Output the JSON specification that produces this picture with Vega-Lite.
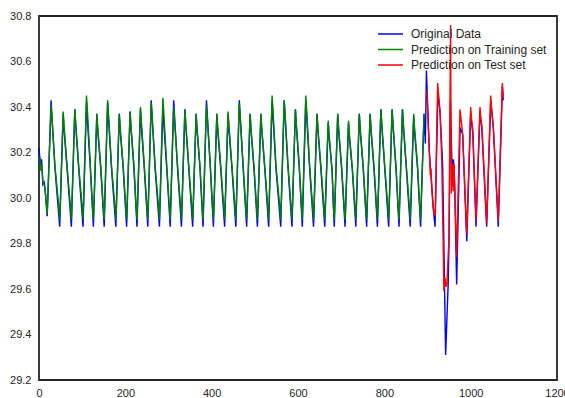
{
"$schema": "https://vega.github.io/schema/vega-lite/v6.json",
"width": 518, "height": 364,
"autosize": {"type": "none"},
"padding": {"left": 39, "top": 16, "right": 8, "bottom": 18},
"config": {
 "view": {"stroke": "#262626", "strokeWidth": 1.8},
 "axis": {"grid": false, "ticks": false, "domain": false, "labelFont": "Liberation Sans", "labelFontSize": 11, "labelColor": "#262626", "title": null},
 "legend": {"orient": "none", "legendX": 344.5, "legendY": 11, "padding": 0, "title": null, "symbolType": "M-2,0H2", "symbolSize": 156, "symbolStrokeWidth": 1.5, "labelFont": "Liberation Sans", "labelFontSize": 12, "labelColor": "#262626", "rowPadding": 2.5, "labelOffset": 13.5}
},
"datasets": {
"orig": [
{"x":0,"y":30.22},{"x":3,"y":30.15},{"x":6,"y":30.17},{"x":9,"y":30.06},{"x":12,"y":30.07},{"x":14,"y":30.04},{"x":19,"y":29.92},
{"x":28,"y":30.43},{"x":30,"y":30.36},{"x":37,"y":30.13},{"x":48,"y":29.874},
{"x":56,"y":30.37},{"x":58,"y":30.30},{"x":65,"y":30.13},{"x":75,"y":29.874},
{"x":83,"y":30.39},{"x":85,"y":30.32},{"x":92,"y":30.13},{"x":102,"y":29.874},
{"x":110,"y":30.42},{"x":112,"y":30.35},{"x":119,"y":30.13},{"x":126,"y":29.874},
{"x":134,"y":30.37},{"x":136,"y":30.30},{"x":143,"y":30.13},{"x":151,"y":29.874},
{"x":159,"y":30.42},{"x":161,"y":30.35},{"x":168,"y":30.13},{"x":178,"y":29.874},
{"x":186,"y":30.37},{"x":188,"y":30.30},{"x":195,"y":30.13},{"x":203,"y":29.874},
{"x":211,"y":30.38},{"x":213,"y":30.31},{"x":220,"y":30.13},{"x":227,"y":29.874},
{"x":235,"y":30.39},{"x":237,"y":30.32},{"x":244,"y":30.13},{"x":252,"y":29.874},
{"x":260,"y":30.43},{"x":262,"y":30.36},{"x":269,"y":30.13},{"x":279,"y":29.874},
{"x":287,"y":30.40},{"x":289,"y":30.33},{"x":296,"y":30.13},{"x":304,"y":29.874},
{"x":312,"y":30.43},{"x":314,"y":30.36},{"x":321,"y":30.13},{"x":330,"y":29.874},
{"x":338,"y":30.39},{"x":340,"y":30.32},{"x":347,"y":30.13},{"x":356,"y":29.874},
{"x":364,"y":30.37},{"x":366,"y":30.30},{"x":373,"y":30.13},{"x":380,"y":29.874},
{"x":388,"y":30.43},{"x":390,"y":30.36},{"x":397,"y":30.13},{"x":404,"y":29.874},
{"x":412,"y":30.37},{"x":414,"y":30.30},{"x":421,"y":30.13},{"x":430,"y":29.874},
{"x":438,"y":30.37},{"x":440,"y":30.30},{"x":447,"y":30.13},{"x":456,"y":29.874},
{"x":464,"y":30.43},{"x":466,"y":30.36},{"x":473,"y":30.13},{"x":481,"y":29.874},
{"x":489,"y":30.37},{"x":491,"y":30.30},{"x":498,"y":30.13},{"x":506,"y":29.874},
{"x":514,"y":30.37},{"x":516,"y":30.30},{"x":523,"y":30.13},{"x":532,"y":29.874},
{"x":540,"y":30.43},{"x":542,"y":30.36},{"x":549,"y":30.13},{"x":560,"y":29.874},
{"x":568,"y":30.43},{"x":570,"y":30.36},{"x":577,"y":30.13},{"x":586,"y":29.874},
{"x":594,"y":30.39},{"x":596,"y":30.32},{"x":603,"y":30.13},{"x":610,"y":29.874},
{"x":618,"y":30.43},{"x":620,"y":30.36},{"x":627,"y":30.13},{"x":636,"y":29.874},
{"x":644,"y":30.37},{"x":646,"y":30.30},{"x":653,"y":30.13},{"x":662,"y":29.874},
{"x":670,"y":30.33},{"x":672,"y":30.27},{"x":679,"y":30.12},{"x":684,"y":29.874},
{"x":692,"y":30.37},{"x":694,"y":30.30},{"x":701,"y":30.13},{"x":709,"y":29.874},
{"x":717,"y":30.33},{"x":719,"y":30.27},{"x":726,"y":30.12},{"x":734,"y":29.874},
{"x":742,"y":30.37},{"x":744,"y":30.30},{"x":751,"y":30.13},{"x":759,"y":29.874},
{"x":767,"y":30.37},{"x":769,"y":30.30},{"x":776,"y":30.13},{"x":784,"y":29.874},
{"x":792,"y":30.39},{"x":794,"y":30.32},{"x":801,"y":30.13},{"x":810,"y":29.874},
{"x":818,"y":30.39},{"x":820,"y":30.32},{"x":827,"y":30.13},{"x":834,"y":29.874},
{"x":842,"y":30.39},{"x":844,"y":30.32},{"x":851,"y":30.13},{"x":860,"y":29.874},
{"x":868,"y":30.36},{"x":870,"y":30.29},{"x":877,"y":30.13},{"x":884,"y":29.874},
{"x":892,"y":30.37},{"x":895,"y":30.24},{"x":897.5,"y":30.56},{"x":899,"y":30.48},{"x":904,"y":30.21},{"x":908,"y":30.10},{"x":913,"y":29.96},{"x":917.5,"y":29.874},
{"x":924,"y":30.46},{"x":929,"y":30.38},{"x":935,"y":30.15},{"x":942,"y":29.31},{"x":948,"y":29.63},{"x":950,"y":29.83},{"x":953,"y":30.43},{"x":957,"y":30.12},{"x":960,"y":30.17},{"x":963,"y":30.06},{"x":967.5,"y":29.62},
{"x":975.5,"y":30.31},{"x":981.5,"y":30.28},{"x":991,"y":29.81},{"x":1000,"y":30.37},{"x":1005,"y":30.28},{"x":1012.5,"y":29.874},{"x":1021.5,"y":30.38},{"x":1026,"y":30.30},{"x":1037,"y":29.874},{"x":1046.5,"y":30.43},{"x":1052.5,"y":30.31},{"x":1064,"y":29.874},{"x":1073.5,"y":30.49},{"x":1075.5,"y":30.43}
],
"train": [
{"x":2,"y":30.18},{"x":4,"y":30.12},{"x":6,"y":30.15},{"x":9,"y":30.07},{"x":12,"y":30.06},{"x":15,"y":30.02},{"x":19,"y":29.93},
{"x":28,"y":30.41},{"x":30,"y":30.35},{"x":37,"y":30.14},{"x":46,"y":29.96},{"x":48,"y":29.905},
{"x":56,"y":30.38},{"x":58,"y":30.32},{"x":65,"y":30.14},{"x":73,"y":29.96},{"x":75,"y":29.905},
{"x":83,"y":30.39},{"x":85,"y":30.33},{"x":92,"y":30.14},{"x":100,"y":29.96},{"x":102,"y":29.905},
{"x":110,"y":30.45},{"x":112,"y":30.39},{"x":119,"y":30.14},{"x":124,"y":29.96},{"x":126,"y":29.905},
{"x":134,"y":30.37},{"x":136,"y":30.31},{"x":143,"y":30.14},{"x":149,"y":29.96},{"x":151,"y":29.905},
{"x":159,"y":30.43},{"x":161,"y":30.37},{"x":168,"y":30.14},{"x":176,"y":29.96},{"x":178,"y":29.905},
{"x":186,"y":30.37},{"x":188,"y":30.31},{"x":195,"y":30.14},{"x":201,"y":29.96},{"x":203,"y":29.905},
{"x":211,"y":30.38},{"x":213,"y":30.32},{"x":220,"y":30.14},{"x":225,"y":29.96},{"x":227,"y":29.905},
{"x":235,"y":30.40},{"x":237,"y":30.34},{"x":244,"y":30.14},{"x":250,"y":29.96},{"x":252,"y":29.905},
{"x":260,"y":30.42},{"x":262,"y":30.36},{"x":269,"y":30.14},{"x":277,"y":29.96},{"x":279,"y":29.905},
{"x":287,"y":30.44},{"x":289,"y":30.38},{"x":296,"y":30.14},{"x":302,"y":29.96},{"x":304,"y":29.905},
{"x":312,"y":30.40},{"x":314,"y":30.34},{"x":321,"y":30.14},{"x":328,"y":29.96},{"x":330,"y":29.905},
{"x":338,"y":30.39},{"x":340,"y":30.33},{"x":347,"y":30.14},{"x":354,"y":29.96},{"x":356,"y":29.905},
{"x":364,"y":30.37},{"x":366,"y":30.31},{"x":373,"y":30.14},{"x":378,"y":29.96},{"x":380,"y":29.905},
{"x":388,"y":30.41},{"x":390,"y":30.35},{"x":397,"y":30.14},{"x":402,"y":29.96},{"x":404,"y":29.905},
{"x":412,"y":30.37},{"x":414,"y":30.31},{"x":421,"y":30.14},{"x":428,"y":29.96},{"x":430,"y":29.905},
{"x":438,"y":30.38},{"x":440,"y":30.32},{"x":447,"y":30.14},{"x":454,"y":29.96},{"x":456,"y":29.905},
{"x":464,"y":30.42},{"x":466,"y":30.36},{"x":473,"y":30.14},{"x":479,"y":29.96},{"x":481,"y":29.905},
{"x":489,"y":30.37},{"x":491,"y":30.31},{"x":498,"y":30.14},{"x":504,"y":29.96},{"x":506,"y":29.905},
{"x":514,"y":30.37},{"x":516,"y":30.31},{"x":523,"y":30.14},{"x":530,"y":29.96},{"x":532,"y":29.905},
{"x":540,"y":30.45},{"x":542,"y":30.39},{"x":549,"y":30.14},{"x":558,"y":29.96},{"x":560,"y":29.905},
{"x":568,"y":30.43},{"x":570,"y":30.37},{"x":577,"y":30.14},{"x":584,"y":29.96},{"x":586,"y":29.905},
{"x":594,"y":30.39},{"x":596,"y":30.33},{"x":603,"y":30.14},{"x":608,"y":29.96},{"x":610,"y":29.905},
{"x":618,"y":30.45},{"x":620,"y":30.39},{"x":627,"y":30.14},{"x":634,"y":29.96},{"x":636,"y":29.905},
{"x":644,"y":30.37},{"x":646,"y":30.31},{"x":653,"y":30.14},{"x":660,"y":29.96},{"x":662,"y":29.905},
{"x":670,"y":30.34},{"x":672,"y":30.28},{"x":679,"y":30.12},{"x":682,"y":29.96},{"x":684,"y":29.905},
{"x":692,"y":30.37},{"x":694,"y":30.31},{"x":701,"y":30.14},{"x":707,"y":29.96},{"x":709,"y":29.905},
{"x":717,"y":30.34},{"x":719,"y":30.28},{"x":726,"y":30.13},{"x":732,"y":29.96},{"x":734,"y":29.905},
{"x":742,"y":30.37},{"x":744,"y":30.31},{"x":751,"y":30.14},{"x":757,"y":29.96},{"x":759,"y":29.905},
{"x":767,"y":30.37},{"x":769,"y":30.31},{"x":776,"y":30.14},{"x":782,"y":29.96},{"x":784,"y":29.905},
{"x":792,"y":30.39},{"x":794,"y":30.33},{"x":801,"y":30.14},{"x":808,"y":29.96},{"x":810,"y":29.905},
{"x":818,"y":30.39},{"x":820,"y":30.33},{"x":827,"y":30.14},{"x":832,"y":29.96},{"x":834,"y":29.905},
{"x":842,"y":30.39},{"x":844,"y":30.33},{"x":851,"y":30.14},{"x":858,"y":29.96},{"x":860,"y":29.905},
{"x":868,"y":30.37},{"x":870,"y":30.31},{"x":877,"y":30.14},{"x":882,"y":29.96},{"x":884,"y":29.905},
{"x":892,"y":30.37}
],
"test": [
{"x":898.5,"y":30.47},{"x":904,"y":30.22},{"x":906.5,"y":30.10},{"x":908,"y":30.13},{"x":910,"y":30.05},{"x":913,"y":29.97},{"x":916,"y":29.92},{"x":918,"y":29.93},
{"x":923.5,"y":30.505},{"x":925,"y":30.47},{"x":929,"y":30.38},{"x":933,"y":30.17},{"x":936.5,"y":29.78},{"x":938,"y":29.59},{"x":940.5,"y":29.65},{"x":943,"y":29.61},{"x":945,"y":29.62},{"x":949.8,"y":29.83},
{"x":953.5,"y":30.76},{"x":955,"y":30.02},{"x":957.5,"y":30.15},{"x":959.5,"y":30.03},{"x":961.5,"y":30.15},{"x":967.5,"y":29.74},
{"x":975.3,"y":30.39},{"x":977,"y":30.36},{"x":981.5,"y":30.28},{"x":990.8,"y":29.84},{"x":1000,"y":30.40},{"x":1002,"y":30.35},{"x":1005,"y":30.30},{"x":1012.4,"y":29.90},
{"x":1021.6,"y":30.40},{"x":1023.5,"y":30.35},{"x":1026,"y":30.32},{"x":1037.2,"y":29.89},{"x":1046.4,"y":30.45},{"x":1048,"y":30.40},{"x":1052.5,"y":30.31},{"x":1064,"y":29.90},{"x":1073.3,"y":30.505},{"x":1075.6,"y":30.44}
]
},
"layer": [
 {"data": {"name": "orig"}, "mark": {"type": "line", "strokeWidth": 1.4},
  "encoding": {
   "x": {"field": "x", "type": "quantitative", "scale": {"domain": [0, 1200], "nice": false, "zero": false}, "axis": {"values": [0, 200, 400, 600, 800, 1000, 1200], "format": "d", "labelPadding": 7, "labelFlush": false}},
   "y": {"field": "y", "type": "quantitative", "scale": {"domain": [29.2, 30.8], "nice": false, "zero": false}, "axis": {"values": [29.2, 29.4, 29.6, 29.8, 30.0, 30.2, 30.4, 30.6, 30.8], "format": ".1f", "labelPadding": 8}},
   "color": {"datum": "Original Data", "type": "nominal", "scale": {"domain": ["Original Data", "Prediction on Training set", "Prediction on Test set"], "range": ["#0000ff", "#008000", "#ff0000"]}}
  }},
 {"data": {"name": "train"}, "mark": {"type": "line", "strokeWidth": 1.4},
  "encoding": {
   "x": {"field": "x", "type": "quantitative"},
   "y": {"field": "y", "type": "quantitative"},
   "color": {"datum": "Prediction on Training set", "type": "nominal"}
  }},
 {"data": {"name": "test"}, "mark": {"type": "line", "strokeWidth": 1.4},
  "encoding": {
   "x": {"field": "x", "type": "quantitative"},
   "y": {"field": "y", "type": "quantitative"},
   "color": {"datum": "Prediction on Test set", "type": "nominal"}
  }}
]
}
